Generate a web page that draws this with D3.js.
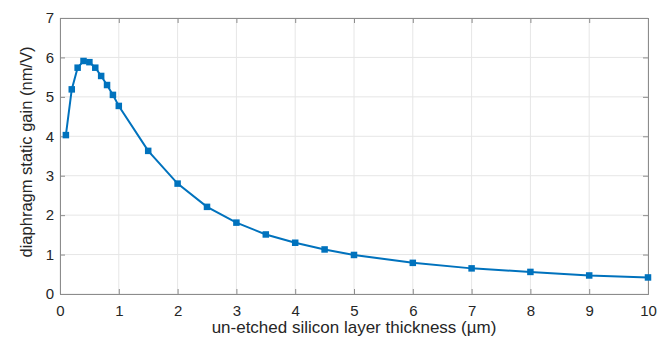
<!DOCTYPE html>
<html>
<head>
<meta charset="utf-8">
<script src="https://cdn.jsdelivr.net/npm/d3@7"></script>
<style>
  body { margin: 0; background: #fff; }
  text { font-family: "Liberation Sans", Arial, sans-serif; fill: #262626; }
</style>
</head>
<body>
<script>
// thickness (um) and static gain (nm/V)
var thickness = [0.1, 0.2, 0.3, 0.4, 0.5, 0.6, 0.7, 0.8, 0.9, 1.0, 1.5, 2, 2.5, 3, 3.5, 4, 4.5, 5, 6, 7, 8, 9, 10];
var gain = [4.03, 5.19, 5.74, 5.91, 5.88, 5.74, 5.53, 5.30, 5.05, 4.77, 3.63, 2.80, 2.21, 1.81, 1.51, 1.30, 1.13, 0.99, 0.79, 0.65, 0.56, 0.47, 0.42];
var xTicks = [0, 1, 2, 3, 4, 5, 6, 7, 8, 9, 10];
var yTicks = [0, 1, 2, 3, 4, 5, 6, 7];

var width = 671, height = 347;
var margin = {left: 60, right: 23, top: 18, bottom: 53};

var svg = d3.select("body").append("svg")
    .attr("width", width)
    .attr("height", height);

var x = d3.scaleLinear().domain([0, 10]).range([margin.left, width - margin.right]);
var y = d3.scaleLinear().domain([0, 7]).range([height - margin.bottom, margin.top]);

//grid lines
svg.append("g").selectAll("line")
    .data(xTicks).enter().append("line")
    .attr("x1", d => x(d)).attr("x2", d => x(d))
    .attr("y1", y(0)).attr("y2", y(7))
    .attr("stroke", "#e6e6e6").attr("stroke-width", 1);
svg.append("g").selectAll("line")
    .data(yTicks).enter().append("line")
    .attr("x1", x(0)).attr("x2", x(10))
    .attr("y1", d => y(d)).attr("y2", d => y(d))
    .attr("stroke", "#e6e6e6").attr("stroke-width", 1);

//axes, ticks pointing in
var xAxis = svg.append("g")
    .attr("transform", "translate(0," + y(0) + ")")
    .call(d3.axisBottom(x).tickValues(xTicks).tickSize(-5).tickPadding(11).tickFormat(d3.format("d")));
var xTop = svg.append("g")
    .attr("transform", "translate(0," + y(7) + ")")
    .call(d3.axisTop(x).tickValues(xTicks).tickSize(-5).tickFormat(""));
var yAxis = svg.append("g")
    .attr("transform", "translate(" + x(0) + ",0)")
    .call(d3.axisLeft(y).tickValues(yTicks).tickSize(-5).tickPadding(6).tickFormat(d3.format("d")));
var yRight = svg.append("g")
    .attr("transform", "translate(" + x(10) + ",0)")
    .call(d3.axisRight(y).tickValues(yTicks).tickSize(-5).tickFormat(""));

[xAxis, xTop, yAxis, yRight].forEach(function(g){
    g.selectAll("path").attr("stroke", "#8c8c8c");
    g.selectAll("line").attr("stroke", "#8c8c8c");
    g.selectAll("text").attr("font-size", 15).attr("fill", "#262626")
        .attr("font-family", "Liberation Sans, Arial, sans-serif");
});

//data line
svg.append("path")
    .datum(thickness.map((t, i) => [t, gain[i]]))
    .attr("fill", "none")
    .attr("stroke", "#0072BD")
    .attr("stroke-width", 2)
    .attr("d", d3.line().x(d => x(d[0])).y(d => y(d[1])));

//square markers
svg.append("g").selectAll("rect")
    .data(thickness).enter().append("rect")
    .attr("x", (d) => x(d) - 3.25)
    .attr("y", (d, i) => y(gain[i]) - 3.25)
    .attr("width", 6.5).attr("height", 6.5)
    .attr("fill", "#0072BD");

//axis titles
svg.append("text")
    .attr("x", (x(0) + x(10)) / 2)
    .attr("y", 333)
    .attr("text-anchor", "middle")
    .attr("font-size", 17)
    .text("un-etched silicon layer thickness (\u00b5m)");

svg.append("text")
    .attr("transform", "translate(32," + ((y(0) + y(7)) / 2 - 4) + ") rotate(-90)")
    .attr("text-anchor", "middle")
    .attr("font-size", 16.5)
    .text("diaphragm static gain (nm/V)");
</script>
</body>
</html>
